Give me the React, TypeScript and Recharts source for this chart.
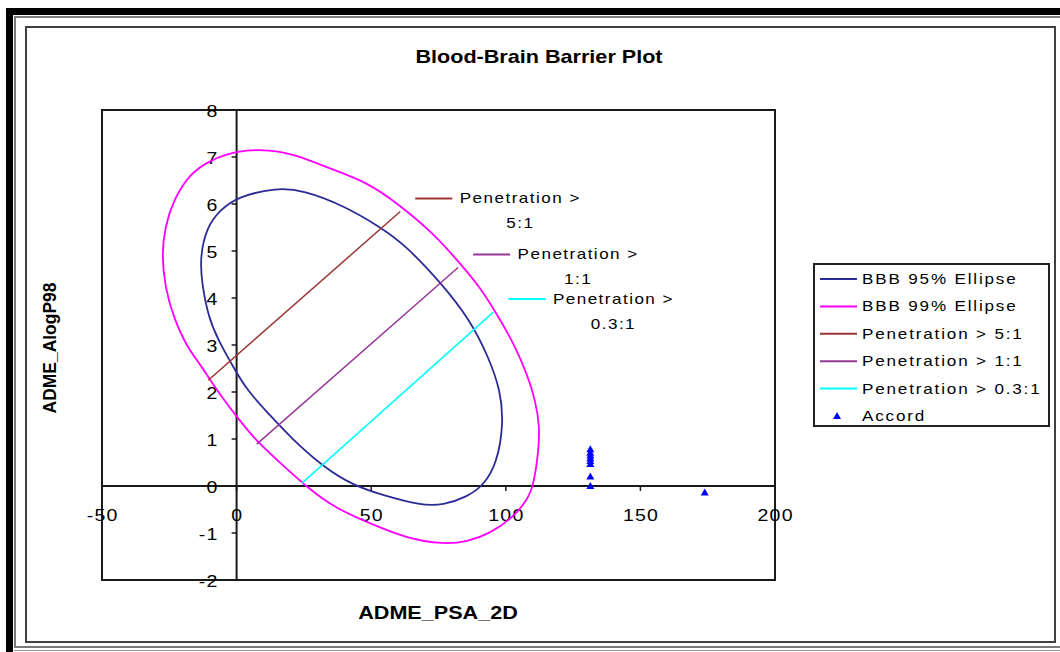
import React from 'react';
import { ScatterChart, Scatter, XAxis, YAxis, ReferenceLine, ReferenceArea, ReferenceDot } from 'recharts';

const FONT = '"Liberation Sans", Arial, sans-serif';

const xTicks = [-50, 0, 50, 100, 150, 200];
const yTicks = [-2, -1, 0, 1, 2, 3, 4, 5, 6, 7, 8];

// BBB 95% ellipse (going round anticlockwise from the top)
const ellipse95 = [
  { x: 14.9, y: 6.35 }, { x: 0.1, y: 6.15 }, { x: -6.1, y: 5.87 }, { x: -11.1, y: 5.51 },
  { x: -13.6, y: 4.87 }, { x: -12.9, y: 4.31 }, { x: -10.5, y: 3.6 }, { x: -6.8, y: 3.1 },
  { x: -1.2, y: 2.53 }, { x: 3.8, y: 2.04 }, { x: 12.5, y: 1.5 }, { x: 19.9, y: 1.04 },
  { x: 32.3, y: 0.4 }, { x: 43.4, y: 0.01 }, { x: 54.6, y: -0.2 }, { x: 68.2, y: -0.41 },
  { x: 76.8, y: -0.41 }, { x: 85.6, y: -0.23 }, { x: 91.7, y: 0.01 }, { x: 96.7, y: 0.48 },
  { x: 99.2, y: 1.33 }, { x: 98.0, y: 2.04 }, { x: 93.6, y: 2.74 }, { x: 86.8, y: 3.53 },
  { x: 75.7, y: 4.34 }, { x: 62.0, y: 5.16 }, { x: 53.3, y: 5.51 }, { x: 39.7, y: 5.97 },
  { x: 24.8, y: 6.29 },
];

// BBB 99% ellipse
const ellipse99 = [
  { x: 12.5, y: 7.16 }, { x: 0.1, y: 7.14 }, { x: -9.9, y: 6.93 }, { x: -17.3, y: 6.65 },
  { x: -23.5, y: 6.08 }, { x: -26.6, y: 5.51 }, { x: -27.8, y: 4.94 }, { x: -26.6, y: 4.23 },
  { x: -23.5, y: 3.6 }, { x: -18.5, y: 2.96 }, { x: -13.6, y: 2.6 }, { x: -7.4, y: 2.04 },
  { x: 0.1, y: 1.47 }, { x: 7.5, y: 0.94 }, { x: 19.9, y: 0.3 }, { x: 26.1, y: -0.02 },
  { x: 36.0, y: -0.45 }, { x: 48.4, y: -0.77 }, { x: 63.3, y: -1.12 }, { x: 76.9, y: -1.24 },
  { x: 85.6, y: -1.19 }, { x: 94.2, y: -1.01 }, { x: 102.9, y: -0.66 }, { x: 107.9, y: -0.3 },
  { x: 110.3, y: 0.0 }, { x: 112.2, y: 0.76 }, { x: 112.6, y: 1.26 }, { x: 111.0, y: 1.82 },
  { x: 107.9, y: 2.39 }, { x: 102.9, y: 3.03 }, { x: 98.0, y: 3.53 }, { x: 90.5, y: 4.23 },
  { x: 83.1, y: 4.73 }, { x: 73.2, y: 5.37 }, { x: 60.8, y: 5.97 }, { x: 48.4, y: 6.47 },
  { x: 34.8, y: 6.75 }, { x: 22.4, y: 7.04 },
];

const pen5 = [{ x: -10.5, y: 2.25 }, { x: 60.8, y: 5.84 }];
const pen1 = [{ x: 7.5, y: 0.89 }, { x: 82.3, y: 4.65 }];
const pen03 = [{ x: 24.3, y: 0.06 }, { x: 95.4, y: 3.7 }];

const accord = [
  { x: 131.4, y: 0.78 }, { x: 131.4, y: 0.71 }, { x: 131.4, y: 0.65 }, { x: 131.4, y: 0.59 },
  { x: 131.4, y: 0.53 }, { x: 131.4, y: 0.47 }, { x: 131.4, y: 0.2 }, { x: 131.4, y: 0.0 },
  { x: 173.9, y: -0.14 },
];

const seriesNames = ['BBB 95% Ellipse', 'BBB 99% Ellipse', 'Penetration > 5:1', 'Penetration > 1:1', 'Penetration > 0.3:1', 'Accord'];
const seriesColors = ['#2b2b96', '#ff00ff', '#9c3434', '#963696', '#00ffff', '#0000ff'];
const penLines = [pen5, pen1, pen03];
const penTop = 'Penetration >';
const penBottom = ['5:1', '1:1', '0.3:1'];

function WideText({ x, y, children, size = 14, anchor = 'start', bold = false, sx = 1.22, ls = 1.2, rotate = 0 }: any) {
  return (
    <text
      transform={`translate(${x},${y}) rotate(${rotate}) scale(${sx},1)`}
      textAnchor={anchor}
      dominantBaseline="central"
      fontFamily={FONT}
      fontSize={size}
      fontWeight={bold ? 'bold' : 'normal'}
      letterSpacing={ls}
      fill="#000"
    >
      {children}
    </text>
  );
}

const Tri = ({ cx, cy, fill }: any) => (
  <polygon points={`${cx},${cy - 4} ${cx + 4},${cy + 3} ${cx - 4},${cy + 3}`} fill={fill} />
);

const hidden = () => <g />;

export default function App() {
  return (
    <div style={{ position: 'absolute', left: 0, top: 0, width: 1060, height: 652, overflow: 'hidden', background: '#fff' }}>
      {/* window frame */}
      <div style={{ position: 'absolute', left: 6, top: 8, width: 1200, height: 800, borderLeft: '7px solid #000', borderTop: '7px solid #000' }} />
      <div style={{ position: 'absolute', left: 14, top: 16, width: 1200, height: 628, borderLeft: '2px solid #7a7a7a', borderTop: '2px solid #7a7a7a', borderBottom: '2px solid #7a7a7a' }} />
      <div style={{ position: 'absolute', left: 14, top: 650, width: 1200, height: 0, borderTop: '1px solid #9a9a9a' }} />
      <div style={{ position: 'absolute', left: 25, top: 26, width: 1031, height: 617, boxSizing: 'border-box', border: '2px solid #404040' }} />

      <div style={{ position: 'absolute', left: 0, top: 0 }}>
        <ScatterChart width={1060} height={652} margin={{ top: 110, right: 285, bottom: 72, left: 102 }}>
          <XAxis type="number" dataKey="x" domain={[-50, 200]} ticks={xTicks} hide allowDataOverflow />
          <YAxis type="number" dataKey="y" domain={[-2, 8]} ticks={yTicks} hide allowDataOverflow />
          <ReferenceArea x1={-50} x2={200} y1={-2} y2={8} fill="none" stroke="#1a1a1a" strokeWidth={2} ifOverflow="visible" />
          <ReferenceLine y={0} stroke="#1a1a1a" strokeWidth={2} />
          <ReferenceLine x={0} stroke="#1a1a1a" strokeWidth={2} />

          {xTicks.map((v) => (
            <ReferenceDot
              key={'xt' + v}
              x={v}
              y={0}
              r={0}
              ifOverflow="visible"
              shape={(p: any) => (
                <g>
                  <line x1={p.cx} y1={p.cy} x2={p.cx} y2={p.cy + 5} stroke="#1a1a1a" strokeWidth={1.5} />
                  <WideText x={p.cx + 0.6} y={p.cy + 30} size={16} anchor="middle" ls={1}>{v}</WideText>
                </g>
              )}
            />
          ))}
          {yTicks.map((v) => (
            <ReferenceDot
              key={'yt' + v}
              x={0}
              y={v}
              r={0}
              ifOverflow="visible"
              shape={(p: any) => (
                <g>
                  <line x1={p.cx - 5} y1={p.cy} x2={p.cx} y2={p.cy} stroke="#1a1a1a" strokeWidth={1.5} />
                  <WideText x={p.cx - 18} y={p.cy + 2} size={16} anchor="end" ls={1}>{v}</WideText>
                </g>
              )}
            />
          ))}

          <Scatter
            name={seriesNames[0]}
            data={ellipse95}
            line={{ stroke: seriesColors[0], strokeWidth: 1.8 }}
            lineType="joint"
            lineJointType="basisClosed"
            shape={hidden}
            isAnimationActive={false}
          />
          <Scatter
            name={seriesNames[1]}
            data={ellipse99}
            line={{ stroke: seriesColors[1], strokeWidth: 1.8 }}
            lineType="joint"
            lineJointType="basisClosed"
            shape={hidden}
            isAnimationActive={false}
          />
          {penLines.map((d, i) => (
            <Scatter
              key={seriesNames[i + 2]}
              name={seriesNames[i + 2]}
              data={d}
              line={{ stroke: seriesColors[i + 2], strokeWidth: 1.5 }}
              lineType="joint"
              shape={hidden}
              isAnimationActive={false}
            />
          ))}
          <Scatter
            name={seriesNames[5]}
            data={accord}
            shape={(p: any) => <Tri cx={p.cx} cy={p.cy} fill={seriesColors[5]} />}
            isAnimationActive={false}
          />

          {penLines.map((d, i) => (
            <ReferenceDot
              key={'pl' + i}
              x={d[d.length - 1].x}
              y={d[d.length - 1].y}
              r={0}
              ifOverflow="visible"
              shape={(p: any) => (
                <g>
                  <line x1={p.cx + 15} y1={p.cy - 13} x2={p.cx + 52} y2={p.cy - 13} stroke={seriesColors[i + 2]} strokeWidth={2} />
                  <WideText x={p.cx + 120} y={p.cy - 13} anchor="middle">{penTop}</WideText>
                  <WideText x={p.cx + 120} y={p.cy + 12} anchor="middle">{penBottom[i]}</WideText>
                </g>
              )}
            />
          ))}
        </ScatterChart>
      </div>

      <svg width={1060} height={652} style={{ position: 'absolute', left: 0, top: 0, pointerEvents: 'none' }}>
        <WideText x={539} y={57} size={18} bold anchor="middle" sx={1.2} ls={0}>Blood-Brain Barrier Plot</WideText>
        <WideText x={438} y={613} size={18} bold anchor="middle" sx={1.2} ls={0}>ADME_PSA_2D</WideText>
        <WideText x={50} y={348} size={18} bold anchor="middle" sx={0.97} ls={0} rotate={-90}>ADME_AlogP98</WideText>

        <rect x={814} y={264} width={235} height={162} fill="#fff" stroke="#222" strokeWidth={2} />
        {seriesNames.map((n, i) => {
          const cy = 279 + i * 27.4;
          return (
            <g key={n}>
              {i < 5 ? (
                <line x1={820} x2={857} y1={cy} y2={cy} stroke={seriesColors[i]} strokeWidth={2} />
              ) : (
                <Tri cx={837} cy={cy} fill={seriesColors[i]} />
              )}
              <WideText x={862} y={cy} ls={1.5}>{n}</WideText>
            </g>
          );
        })}
      </svg>
    </div>
  );
}
